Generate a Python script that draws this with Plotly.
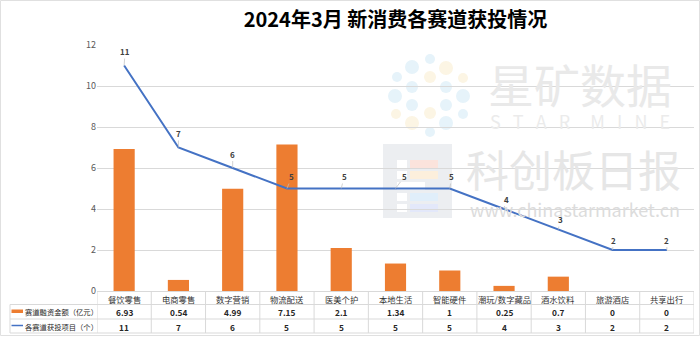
import plotly.graph_objects as go

categories = ["餐饮零售", "电商零售", "数字营销", "物流配送", "医美个护", "本地生活",
              "智能硬件", "潮玩/数字藏品", "酒水饮料", "旅游酒店", "共享出行"]
funding = [6.93, 0.54, 4.99, 7.15, 2.1, 1.34, 1, 0.25, 0.7, 0, 0]
funding_labels = ["6.93", "0.54", "4.99", "7.15", "2.1", "1.34", "1", "0.25", "0.7", "0", "0"]
projects = [11, 7, 6, 5, 5, 5, 5, 4, 3, 2, 2]
series_names = ["赛道融资金额（亿元）", "各赛道获投项目（个）"]
y_ticks = [0, 2, 4, 6, 8, 10, 12]

W, H = 700, 337
L, R, T, B = 97, 6, 45, 46
PW, PH = W - L - R, H - T - B

def px(x):
    return (x - L) / PW

def py(y):
    return (H - B - y) / PH

FONT = "Noto Sans CJK SC"
ORANGE = "#ED7D31"
BLUE = "#4472C4"
GRID = "#d9d9d9"

fig = go.Figure()
fig.add_trace(go.Bar(x=categories, y=funding, marker=dict(color=ORANGE, line=dict(width=0)),
                     name=series_names[0], showlegend=False, hoverinfo="x+y"))
fig.add_trace(go.Scatter(x=categories, y=projects, mode="lines", line=dict(color=BLUE, width=2),
                         name=series_names[1], showlegend=False))

shapes = []
annotations = []

# watermark
dots = [(430, 59, 5, "b"), (412, 67, 7, "b"), (446, 68, 7, "y"), (397, 77, 5, "b"), (430, 77, 6, "y"),
        (463, 78, 5, "y"), (412, 87, 6, "b"), (446, 87, 6, "b"), (395, 96, 7, "b"), (463, 96, 7, "b"),
        (412, 105, 6, "b"), (446, 105, 6, "b"), (430, 113, 6, "y"), (396, 114, 5, "y"),
        (463, 114, 5, "b"), (412, 123, 7, "y"), (446, 123, 7, "b"), (430, 132, 5, "b")]
for (cx, cy, r, c) in dots:
    shapes.append(dict(type="circle", xref="paper", yref="paper", layer="below",
                       x0=px(cx - r), x1=px(cx + r), y0=py(cy + r), y1=py(cy - r),
                       fillcolor="#e6f3fa" if c == "b" else "#fcf5e4", line=dict(width=0)))
shapes.append(dict(type="rect", xref="paper", yref="paper", layer="below",
                   x0=px(383), x1=px(452), y0=py(218), y1=py(144),
                   fillcolor="#eceef1", line=dict(width=0)))
for (x0, y0, x1, y1, col) in [(397, 160, 407, 168, "#ffffff"), (397, 171, 407, 179, "#ffffff"),
                              (397, 182, 425, 190, "#ffffff"), (397, 193, 407, 201, "#ffffff"),
                              (397, 204, 407, 212, "#ffffff"), (410, 160, 438, 168, "#fbe3dc"),
                              (410, 171, 438, 179, "#fcefdc"), (410, 193, 438, 201, "#e0eefa"),
                              (410, 204, 438, 212, "#e3e8fa")]:
    shapes.append(dict(type="rect", xref="paper", yref="paper", layer="below",
                       x0=px(x0), x1=px(x1), y0=py(y1), y1=py(y0), fillcolor=col, line=dict(width=0)))
NB = "\u00a0"
star_mine = (NB * 3).join("STAR") + NB * 5 + (NB * 3).join("MINE")
wm = [("星矿数据", 580, 83, 46, "#e9e9e9"), (star_mine, 580, 121, 18, "#ebebeb"),
      ("科创板日报", 573, 168, 43, "#e6e6e6"), ("www.chinastarmarket.cn", 575, 209, 18, "#dcdcdc")]
for (t, x, y, s, c) in wm:
    annotations.append(dict(text=t, xref="paper", yref="paper", x=px(x), y=py(y), showarrow=False,
                            xanchor="center", yanchor="middle", font=dict(family=FONT, size=s, color=c)))

# line labels
xshifts = [1, 0, 0, 5, 3, 9, 2, 2, 2, 1, 0]
yshifts = [14, 14, 14, 12, 12, 12, 12, 10, 10, 10, 10]
for i, v in enumerate(projects):
    annotations.append(dict(text="<b>%d</b>" % v, x=categories[i], y=v, xref="x", yref="y",
                            showarrow=True, arrowhead=0, arrowwidth=0.7, arrowcolor="#bfbfbf",
                            ax=xshifts[i], ay=-yshifts[i], standoff=0,
                            font=dict(family=FONT, size=8, color="#404040")))

# table
row_y = [298.5, 311.8, 326.5]
for i, c in enumerate(categories):
    annotations.append(dict(text=c, x=categories[i], y=py(row_y[0]), xref="x", yref="paper",
                            showarrow=False, yanchor="middle",
                            font=dict(family=FONT, size=8.3, color="#333333")))
    annotations.append(dict(text="<b>%s</b>" % funding_labels[i], x=categories[i], y=py(row_y[1]),
                            xref="x", yref="paper", showarrow=False, yanchor="middle",
                            font=dict(family=FONT, size=8.3, color="#262626")))
    annotations.append(dict(text="<b>%d</b>" % projects[i], x=categories[i], y=py(row_y[2]),
                            xref="x", yref="paper", showarrow=False, yanchor="middle",
                            font=dict(family=FONT, size=8.3, color="#262626")))
for k, n in enumerate(series_names):
    annotations.append(dict(text=n, x=px(23), y=py(row_y[k + 1]), xref="paper", yref="paper",
                            showarrow=False, xanchor="left", yanchor="middle",
                            font=dict(family=FONT, size=7.3, color="#262626")))
shapes.append(dict(type="rect", xref="paper", yref="paper", x0=px(11.5), x1=px(23),
                   y0=py(313), y1=py(309.5), fillcolor=ORANGE, line=dict(width=0)))
shapes.append(dict(type="line", xref="paper", yref="paper", x0=px(11.5), x1=px(23),
                   y0=py(325.5), y1=py(325.5), line=dict(color=BLUE, width=1.5)))

for yy, x0 in [(291.5, L), (304.5, 10), (319, 10), (333, 10)]:
    shapes.append(dict(type="line", xref="paper", yref="paper", x0=px(x0), x1=1,
                       y0=py(yy), y1=py(yy), line=dict(color=GRID, width=1)))
shapes.append(dict(type="line", xref="paper", yref="paper", x0=px(10), x1=px(10),
                   y0=py(304.5), y1=py(333), line=dict(color=GRID, width=1)))
for k in range(len(categories) + 1):
    shapes.append(dict(type="line", xref="x", yref="paper", x0=k - 0.5, x1=k - 0.5,
                       y0=py(291.5), y1=py(333), line=dict(color=GRID, width=1)))
# outer frame
shapes.append(dict(type="rect", xref="paper", yref="paper", x0=px(0.5), x1=px(699.5),
                   y0=py(335.5), y1=py(0.5), line=dict(color="#e0e0e0", width=1)))

fig.update_layout(
    width=W, height=H, margin=dict(l=L, r=R, t=T, b=B),
    paper_bgcolor="white", plot_bgcolor="white",
    bargap=0.61,
    title=dict(text="<b>2024年3月 新消费各赛道获投情况</b>", x=0.5, xref="paper", xanchor="center",
               y=1 - 20 / H, yanchor="middle", yref="container",
               font=dict(family=FONT, size=20, color="#000000")),
    xaxis=dict(range=[-0.5, len(categories) - 0.5], showticklabels=False, showgrid=False,
               zeroline=False, showline=False, ticks=""),
    yaxis=dict(range=[0, 12], tickvals=y_ticks, showgrid=True, gridcolor=GRID, gridwidth=1,
               zeroline=False, showline=False, ticks="", ticklen=0,
               tickfont=dict(family=FONT, size=9, color="#595959")),
    shapes=shapes, annotations=annotations, showlegend=False,
    font=dict(family=FONT),
)
fig.write_html("out.html")
